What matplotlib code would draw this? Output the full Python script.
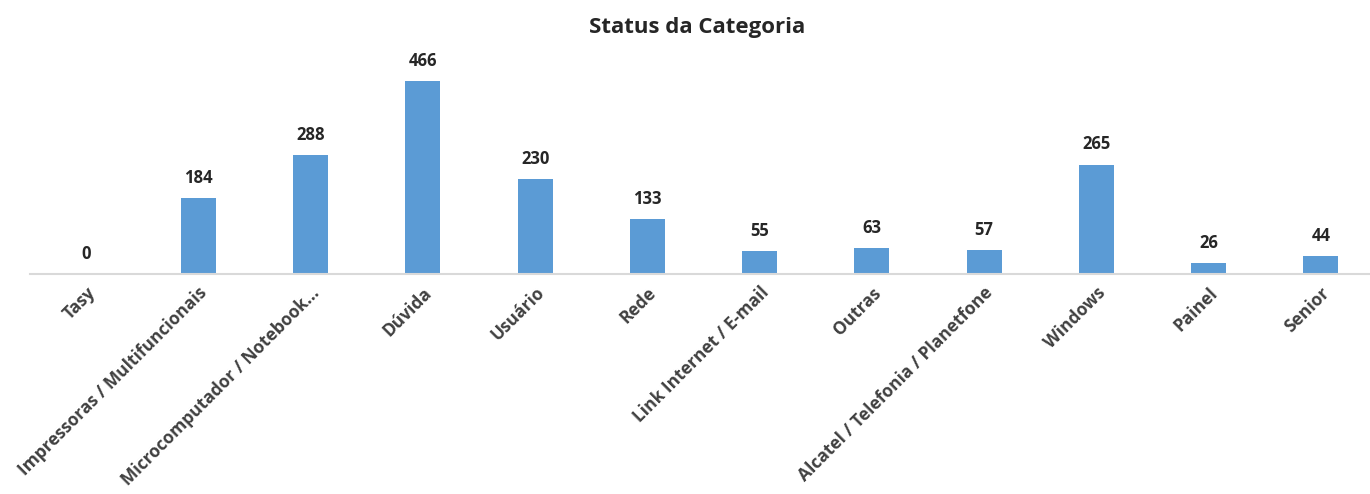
import numpy as np
import matplotlib.pyplot as plt

categorias = ['Tasy', 'Impressoras / Multifuncionais', 'Microcomputador / Notebook...',
              'Dúvida', 'Usuário', 'Rede', 'Link Internet / E-mail', 'Outras',
              'Alcatel / Telefonia / Planetfone', 'Windows', 'Painel', 'Senior']
valores = [0, 184, 288, 466, 230, 133, 55, 63, 57, 265, 26, 44]

plt.rcParams['font.family'] = ['Open Sans', 'DejaVu Sans']

fig = plt.figure(figsize=(13.7, 4.94), dpi=100)
ax = fig.add_axes([30 / 1370, 0.4453, 1347 / 1370, 0.435])

x = np.arange(len(categorias))
ax.bar(x, valores, width=0.31, color='#5B9BD5')

for xi, v in zip(x, valores):
    ax.annotate(str(v), (xi, v), xytext=(0, 8), textcoords='offset points',
                ha='center', va='bottom', fontsize=12, fontweight='bold',
                color='#262626')

ax.set_xlim(-0.5, len(categorias) - 0.5)
ax.set_ylim(0, 520)
ax.set_xticks(x)
ax.set_xticklabels(categorias, rotation=45, ha='right', rotation_mode='anchor',
                   fontsize=12.5, fontweight='bold', color='#404040')
ax.tick_params(axis='x', length=0, pad=7)
ax.set_yticks([])
for s in ['top', 'right', 'left']:
    ax.spines[s].set_visible(False)
ax.spines['bottom'].set_color('#D9D9D9')
ax.spines['bottom'].set_linewidth(1.5)

fig.text(697 / 1370, 1 - 28 / 494, 'Status da Categoria', ha='center', va='center',
         fontsize=16, fontweight='bold', color='#262626')

fig.savefig('out.png', dpi=100)
